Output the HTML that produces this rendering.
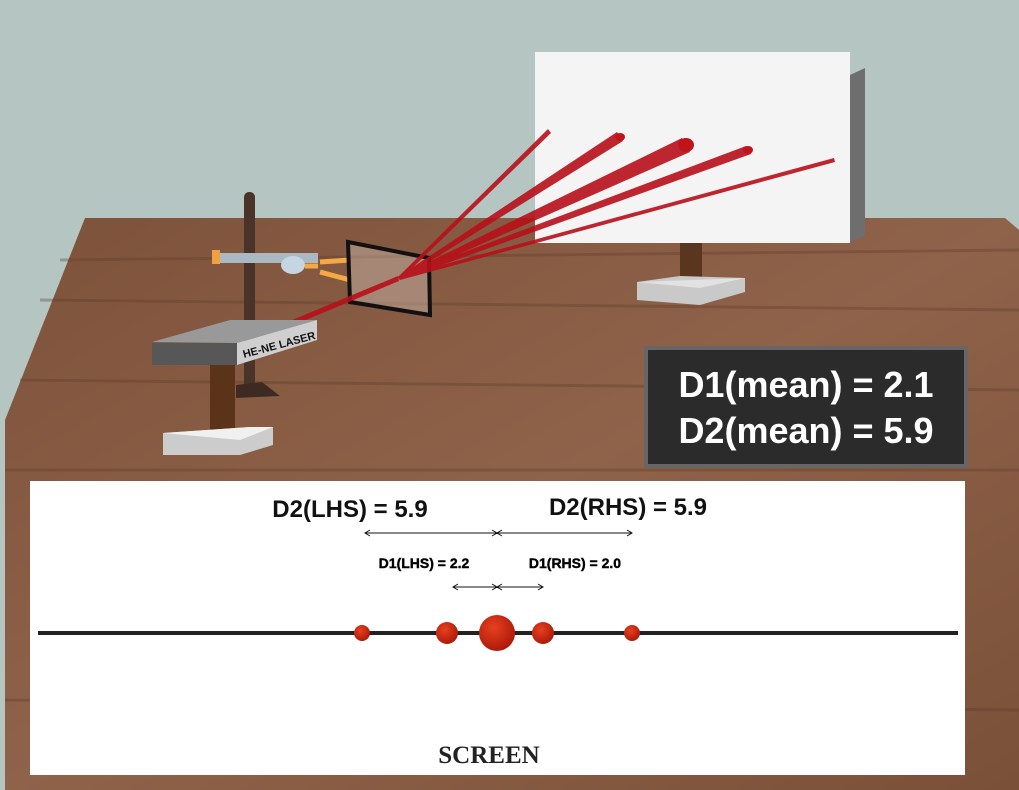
<!DOCTYPE html>
<html><head><meta charset="utf-8"><style>
body{margin:0;width:1019px;height:790px;overflow:hidden;background:#b5c6c2;font-family:"Liberation Sans",sans-serif}
svg{position:absolute;left:0;top:0}
</style></head><body>
<svg width="1019" height="790">
<defs>
<linearGradient id="wood" x1="0" y1="0" x2="1" y2="1"><stop offset="0" stop-color="#7d523a"/><stop offset="0.5" stop-color="#8f634a"/><stop offset="1" stop-color="#7a5038"/></linearGradient>
<radialGradient id="dot" cx="0.4" cy="0.35" r="0.7"><stop offset="0" stop-color="#e84020"/><stop offset="1" stop-color="#a81808"/></radialGradient>
</defs>
<rect width="1019" height="790" fill="#b5c6c2"/>
<polygon points="85,218 1005,218 1019,230 1019,790 5,790 5,420" fill="url(#wood)"/>
<g stroke="#5e3c2a" stroke-width="3" opacity="0.35">
<line x1="40" y1="300" x2="1019" y2="310"/><line x1="20" y1="380" x2="1019" y2="390"/><line x1="5" y1="470" x2="1019" y2="470"/><line x1="5" y1="700" x2="1019" y2="710"/><line x1="60" y1="260" x2="1019" y2="250"/></g>
<g>
<rect x="680" y="225" width="22" height="60" fill="#5a3520"/>
<polygon points="637,282 680,276 745,278 745,292 700,305 637,300" fill="#c9c9c9"/>
<polygon points="637,282 700,288 745,278" fill="#e2e2e2"/>
</g>
<polygon points="850,75 865,68 865,235 850,243" fill="#6e6e6e"/>
<rect x="535" y="52" width="315" height="191" fill="#f4f4f4"/>
<g>
<rect x="244" y="192" width="11" height="200" rx="5" fill="#4a3328"/>
<polygon points="236,385 262,382 280,396 236,398" fill="#3e2a22"/>
<rect x="218" y="253" width="100" height="10" fill="#a9b8c2"/>
<rect x="212" y="250" width="8" height="14" fill="#f0a040"/>
<ellipse cx="293" cy="265" rx="12" ry="9" fill="#c5d5e2"/>
<path d="M305,266 L318,266 M320,262 L350,260 M320,272 L350,280" stroke="#f6a843" stroke-width="5" fill="none"/>
</g>
<polygon points="348,242 429,258 430,315 350,302" fill="#d8c8c0" fill-opacity="0.4" stroke="#111" stroke-width="4"/>
<g fill="#b8101a" opacity="0.9">
<polygon points="285,323 398,276 399,281 289,327"/>
<polygon points="398,277 548,129 551,133 400,280"/>
<polygon points="398,277 617,132 623,141 400,280"/>
<polygon points="398,277 682,138 690,152 400,280"/>
<polygon points="398,277 746,146 751,154 400,280"/>
<polygon points="398,277 834,158 835,162 400,280"/>
</g>
<ellipse cx="620" cy="137" rx="5" ry="4" fill="#c0141a"/><ellipse cx="686" cy="145" rx="8" ry="7" fill="#c0141a"/><ellipse cx="748" cy="150" rx="5" ry="4" fill="#c0141a"/>
<g>
<rect x="210" y="362" width="25" height="75" fill="#5a3318"/>
<polygon points="163,433 250,427 273,427 273,445 240,455 163,455" fill="#ccc"/>
<polygon points="163,433 240,440 273,427 250,427" fill="#f0f0f0"/>
<polygon points="152,342 230,320 317,320 237,343" fill="#999"/>
<polygon points="152,343 237,343 237,365 152,365" fill="#575757"/>
<polygon points="237,343 317,320 317,340 237,365" fill="#cfcfcf"/>
<text x="244" y="358" font-size="11" font-weight="bold" fill="#111" transform="rotate(-15 244 358)">HE-NE LASER</text>
</g>
<rect x="646" y="348" width="320" height="118" fill="#2b2b2b" stroke="#666" stroke-width="4"/>
<text x="806" y="397" text-anchor="middle" font-size="36" font-weight="bold" fill="#fff">D1(mean) = 2.1</text>
<text x="806" y="443" text-anchor="middle" font-size="36" font-weight="bold" fill="#fff">D2(mean) = 5.9</text>
<rect x="30" y="481" width="935" height="294" fill="#fff"/>
<text x="350" y="517" text-anchor="middle" font-size="24" font-weight="bold" fill="#111">D2(LHS) = 5.9</text>
<text x="628" y="515" text-anchor="middle" font-size="24" font-weight="bold" fill="#111">D2(RHS) = 5.9</text>
<g stroke="#111" stroke-width="1" fill="none">
<line x1="365" y1="533" x2="632" y2="533"/>
<path d="M370,530 L365,533 L370,536 M492,530 L497,533 L492,536 M502,530 L497,533 L502,536 M627,530 L632,533 L627,536"/>
</g>
<text x="424" y="568" text-anchor="middle" font-size="14" font-weight="bold" fill="#000" stroke="#000" stroke-width="0.4">D1(LHS) = 2.2</text>
<text x="575" y="568" text-anchor="middle" font-size="14" font-weight="bold" fill="#000" stroke="#000" stroke-width="0.4">D1(RHS) = 2.0</text>
<g stroke="#111" stroke-width="1" fill="none">
<line x1="453" y1="587" x2="543" y2="587"/>
<path d="M458,584 L453,587 L458,590 M492,584 L497,587 L492,590 M502,584 L497,587 L502,590 M538,584 L543,587 L538,590"/>
</g>
<line x1="38" y1="633" x2="958" y2="633" stroke="#222" stroke-width="4"/>
<g fill="url(#dot)">
<circle cx="362" cy="633" r="8"/><circle cx="447" cy="633" r="11"/><circle cx="497" cy="633" r="18"/><circle cx="543" cy="633" r="11"/><circle cx="632" cy="633" r="8"/>
</g>
<text x="489" y="763" text-anchor="middle" font-family="Liberation Serif,serif" font-size="25" font-weight="bold" fill="#222">SCREEN</text>
</svg>
</body></html>
